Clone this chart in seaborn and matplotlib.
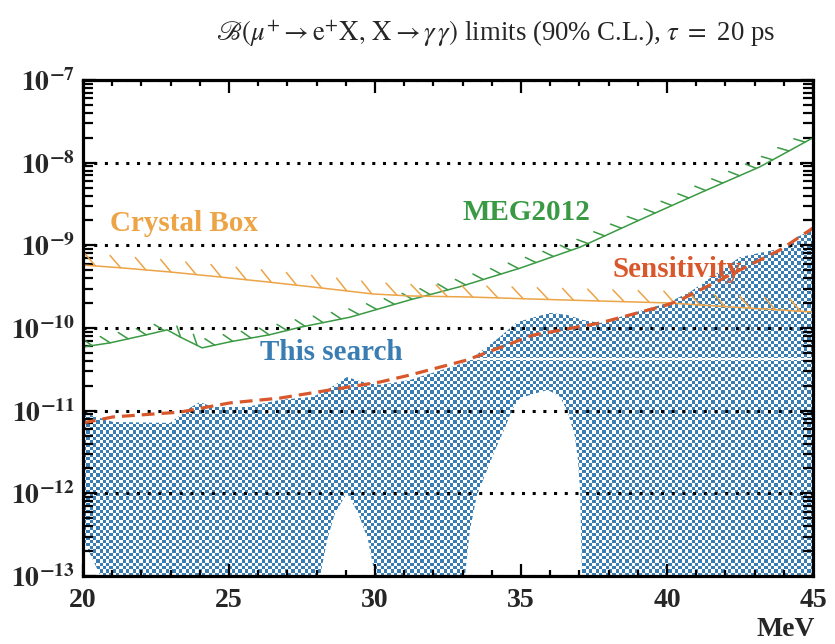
"""
Branching-ratio limits for mu+ -> e+ X, X -> gamma gamma, tau = 20 ps
"""

import numpy as np
import matplotlib
matplotlib.use('Agg')
import matplotlib.pyplot as plt
import matplotlib.patheffects as pe
from matplotlib.image import BboxImage
from matplotlib.colors import ListedColormap, Normalize
from matplotlib.ticker import MultipleLocator, FixedLocator, FuncFormatter, NullFormatter
import seaborn as sns

# MEG2012 limit (green)
meg_mass = [20.0, 20.92, 22.19, 22.88, 23.32, 24.08, 25.03, 26.4, 27.43, 29.14,
            31.2, 32.91, 34.97, 37.02, 39.08, 41.13, 43.18, 45.0]
meg_br = [5.9e-11, 6.6e-11, 8.3e-11, 9.5e-11, 7.8e-11, 5.75e-11, 6.8e-11, 8.3e-11,
          1.02e-10, 1.35e-10, 2.19e-10, 3.16e-10, 5.3e-10, 9.5e-10, 2.04e-9,
          4.3e-9, 8.9e-9, 2.0e-8]

# Crystal Box limit (orange)
cb_mass = [20.0, 21.37, 22.98, 24.69, 26.3, 27.88, 29.93, 31.2, 33.25, 35.41,
           37.71, 40.03, 42.26, 45.0]
cb_br = [5.78e-10, 5.32e-10, 4.76e-10, 4.14e-10, 3.61e-10, 3.13e-10, 2.58e-10,
         2.44e-10, 2.37e-10, 2.24e-10, 2.12e-10, 2.01e-10, 1.79e-10, 1.56e-10]

# expected sensitivity (red dashed)
sens_mass = [20.0, 21.03, 23.32, 25.03, 26.75, 28.46, 30.17, 31.2, 33.15, 35.41,
             37.71, 40.0, 40.45, 42.5, 43.87, 45.0]
sens_br = [7.1e-12, 8.4e-12, 9.6e-12, 1.24e-11, 1.42e-11, 1.78e-11, 2.22e-11,
           2.7e-11, 4.1e-11, 8.2e-11, 1.15e-10, 1.9e-10, 2.18e-10, 5.04e-10,
           8.8e-10, 1.62e-9]

# this search: upper edge of the excluded band
up_mass = [20.0, 20.24, 21.03, 22.98, 23.66, 24.0, 24.45, 25.62, 26.75, 27.88,
           28.46, 29.04, 29.59, 30.17, 31.2, 33.15, 34.28, 34.86, 35.99, 36.58,
           37.12, 37.71, 38.84, 40.0, 40.79, 42.5, 44.11, 44.45, 45.0]
up_br = [1.08e-11, 8.9e-12, 7.3e-12, 7.1e-12, 1.08e-11, 1.27e-11, 1.11e-11,
         1.11e-11, 1.35e-11, 1.47e-11, 1.88e-11, 2.55e-11, 2.22e-11, 2.05e-11,
         2.35e-11, 3.88e-11, 7.8e-11, 1.18e-10, 1.52e-10, 1.44e-10, 1.25e-10,
         1.15e-10, 1.52e-10, 2.0e-10, 2.73e-10, 7.2e-10, 9.5e-10, 1.26e-9, 1.53e-9]

# this search: lower edge of the excluded band (1e-13 = bottom of the plot)
low_mass = [20.0, 20.6, 28.12, 28.36, 28.63, 29.04, 29.42, 29.76, 30.0,
            33.08, 33.25, 33.49, 33.77, 34.11, 34.45, 34.69, 34.97, 35.55, 35.92,
            36.34, 36.61, 36.85, 36.95, 37.02, 37.09, 45.0]
low_br = [2.8e-13, 1e-13, 1e-13, 2.73e-13, 5.8e-13, 1.01e-12, 5.8e-13, 2.73e-13, 1e-13,
          1e-13, 3.6e-13, 9.5e-13, 1.67e-12, 3.34e-12, 6.2e-12, 1.02e-11, 1.42e-11,
          1.64e-11, 1.78e-11, 1.47e-11, 9.4e-12, 4.8e-12, 2.53e-12, 1.1e-12, 1e-13, 1e-13]

gap_level = 4.2e-11
decades = [-13, -12, -11, -10, -9, -8, -7]

green = '#3a9a44'
orange = '#eca447'
red = '#d9582b'
blue = '#3a7db2'

sns.set_theme(style='ticks')
plt.rcParams['font.family'] = ['Liberation Serif', 'DejaVu Serif']
plt.rcParams['mathtext.fontset'] = 'stix'

fig = plt.figure(figsize=(8.35, 6.44), dpi=100)
ax = fig.add_axes([0.0994, 0.1056, 0.8743, 0.7702])
ax.set_yscale('log')
ax.set_xlim(20, 45)
ax.set_ylim(1e-13, 1e-7)

# checkered band, clipped to the excluded region
band = ax.fill(np.r_[up_mass, low_mass[::-1]], np.r_[up_br, low_br[::-1]],
               facecolor='none', edgecolor='none')[0]
checker = np.add.outer(np.arange(150), np.arange(221)) % 2
im = BboxImage(ax.bbox, cmap=ListedColormap(['white', blue]),
               norm=Normalize(0, 1), interpolation='nearest')
im.set_data(checker)
im.set_zorder(1)
ax.add_artist(im)
im.set_clip_path(band)
ax.hlines(gap_level, 31.5, 45, color='white', lw=1.5, zorder=1.5)

# limit curves
sns.lineplot(x=meg_mass, y=meg_br, ax=ax, color=green, lw=1.1, zorder=3,
             path_effects=[pe.withTickedStroke(angle=135, spacing=13, length=0.65)])
sns.lineplot(x=cb_mass, y=cb_br, ax=ax, color=orange, lw=1.1, zorder=3,
             path_effects=[pe.withTickedStroke(angle=135, spacing=18, length=0.65)])
sns.lineplot(x=sens_mass, y=sens_br, ax=ax, color=red, lw=2.3, zorder=4,
             linestyle=(0, (4, 2.2)))

# labels
lab = dict(fontsize=21, fontweight='bold', va='baseline', ha='left', zorder=5)
ax.text(20.92, 1.49e-9, 'Crystal Box', color=orange, **lab)
ax.text(33.01, 2.03e-9, 'MEG2012', color=green, **lab)
ax.text(38.12, 4.14e-10, 'Sensitivity', color=red, **lab)
ax.text(26.06, 4.1e-11, 'This search', color=blue, **lab)

# axes styling
ax.set_axisbelow(False)
ax.grid(axis='y', which='major', color='black', linestyle=(0, (1, 2.5)), linewidth=2.2)
ax.xaxis.set_major_locator(MultipleLocator(5))
ax.xaxis.set_minor_locator(MultipleLocator(1))
ax.yaxis.set_major_locator(FixedLocator([10.0 ** d for d in decades]))
ax.yaxis.set_minor_locator(FixedLocator(
    [m * 10.0 ** d for d in decades[:-1] for m in range(2, 10)]))
ax.yaxis.set_minor_formatter(NullFormatter())
ax.yaxis.set_major_formatter(FuncFormatter(
    lambda v, p: r'$\mathbf{10^{%d}}$' % int(round(np.log10(v)))))
ax.tick_params(which='both', direction='in', top=True, right=True, width=1.6, color='black')
ax.tick_params(which='major', length=9, labelsize=20)
ax.tick_params(axis='x', which='minor', length=4.5)
ax.tick_params(axis='y', which='minor', length=7)
ax.tick_params(axis='x', pad=9)
ax.tick_params(axis='y', pad=6)
for t in ax.get_xticklabels():
    t.set_fontweight('bold')
for s in ax.spines.values():
    s.set_linewidth(2.3)
    s.set_color('black')
    s.set_zorder(6)

fig.text(0.976, 0.012, 'MeV', ha='right', va='baseline', fontsize=20, fontweight='bold')
fig.text(0.593, 0.936,
         r'$\mathscr{B}(\mu^{+} \rightarrow \mathrm{e}^{+}\mathrm{X},\, \mathrm{X} \rightarrow \gamma\,\gamma)$'
         r' limits (90% C.L.), $\tau\ =$ 20 ps',
         ha='center', va='baseline', fontsize=19.3)

fig.savefig('out.png', dpi=100)
